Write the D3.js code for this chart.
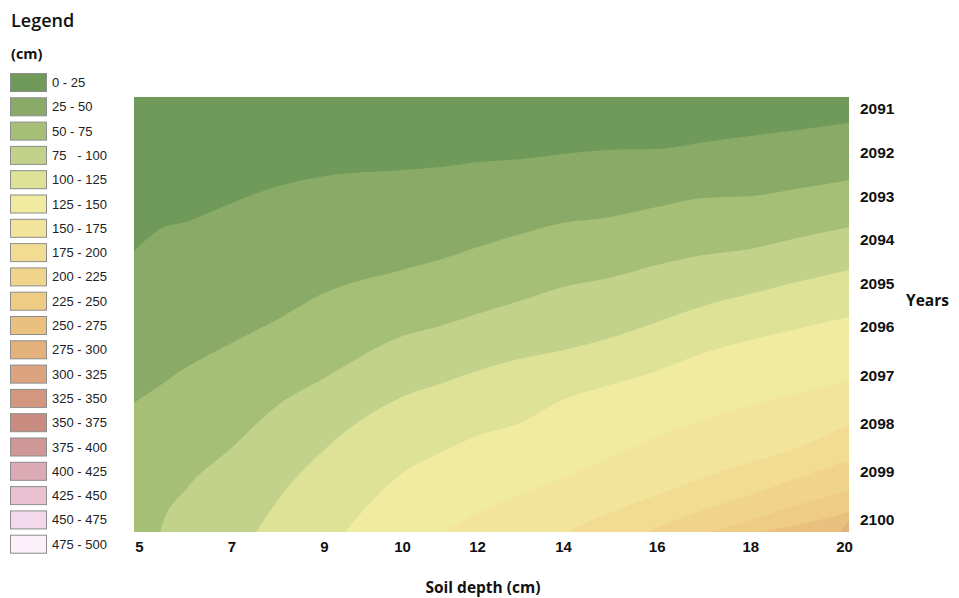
<!doctype html>
<html lang="en">
<head>
<meta charset="UTF-8">
<title>Soil depth by year</title>
<script src="https://d3js.org/d3.v7.min.js"></script>
<style>
  body { margin: 0; background: #fff; }
  svg { display: block; }
</style>
</head>
<body>
<div id="chart"></div>
<script>
// legend classes (cm)
var classLabels = ["0 - 25", "25 - 50", "50 - 75", "75   - 100", "100 - 125", "125 - 150", "150 - 175",
  "175 - 200", "200 - 225", "225 - 250", "250 - 275", "275 - 300", "300 - 325", "325 - 350",
  "350 - 375", "375 - 400", "400 - 425", "425 - 450", "450 - 475", "475 - 500"];
var classColors = ["#6f9a59", "#8aab68", "#a6bf77", "#c3d28a", "#dde296", "#f1eb9f", "#f2e49a",
  "#f2dc92", "#f1d48b", "#efcc84", "#eac07e", "#e3b17c", "#dba37e", "#d3977f",
  "#c98b80", "#cf9897", "#dcaab4", "#e9c1d0", "#f3d9eb", "#fcf0fb"];

// axis ticks
var depthTicks = [5, 7, 9, 10, 12, 14, 16, 18, 20];
var yearTicks = [2091, 2092, 2093, 2094, 2095, 2096, 2097, 2098, 2099, 2100];

// class boundaries: [soil depth, year]
var edge25 = [[4.88, 2094.28], [5.5, 2093.73], [6, 2093.59], [7, 2093.16], [8, 2092.77], [9, 2092.54],
  [10, 2092.40], [11, 2092.33], [12, 2092.22], [13, 2092.15], [14, 2092.03], [15, 2091.94],
  [16, 2091.92], [17, 2091.76], [18, 2091.62], [19, 2091.48], [20.12, 2091.32]];
var edge50 = [[4.88, 2097.58], [5.5, 2097.18], [6, 2096.85], [7, 2096.33], [8, 2095.82], [9, 2095.22],
  [10, 2094.69], [11, 2094.46], [12, 2094.17], [13, 2093.87], [14, 2093.61], [15, 2093.48],
  [16, 2093.25], [17, 2093.04], [18, 2093.00], [19, 2092.83], [20.12, 2092.63]];
var edge75 = [[5.45, 2100.3], [5.5, 2100.10], [6, 2099.38], [7, 2098.51], [8, 2097.62], [9, 2097.06],
  [10, 2096.19], [11, 2095.98], [12, 2095.70], [13, 2095.40], [14, 2095.08], [15, 2094.87],
  [16, 2094.58], [17, 2094.35], [18, 2094.21], [19, 2093.96], [20.12, 2093.71]];
var edge100 = [[7.5, 2100.3], [8, 2099.59], [9, 2098.55], [10, 2097.45], [11, 2097.18], [12, 2096.91],
  [13, 2096.66], [14, 2096.48], [15, 2096.23], [16, 2095.89], [17, 2095.52], [18, 2095.24],
  [19, 2094.97], [20.12, 2094.69]];
var edge125 = [[9.24, 2100.3], [10, 2099.03], [11, 2098.61], [12, 2098.26], [13, 2097.99], [14, 2097.51],
  [15, 2097.20], [16, 2096.91], [17, 2096.54], [18, 2096.27], [19, 2096.04], [20.12, 2095.77]];
var edge150 = [[11.0, 2100.3], [12.07, 2099.83], [13, 2099.48], [14, 2099.13], [15, 2098.71],
  [16, 2098.28], [17, 2097.93], [18, 2097.62], [19, 2097.37], [20.12, 2097.10]];
var edge175 = [[13.93, 2100.3], [15, 2099.85], [16, 2099.48], [17, 2099.13], [18, 2098.81],
  [19, 2098.50], [20.12, 2098.02]];
var edge200 = [[15.64, 2100.3], [17, 2099.79], [18, 2099.48], [19, 2099.13], [20.12, 2098.76]];
var edge225 = [[16.97, 2100.3], [18, 2100.0], [19, 2099.69], [20.12, 2099.38]];
var edge250 = [[17.93, 2100.3], [19, 2100.10], [20.12, 2099.83]];
var edge275 = [[19.87, 2100.3], [20.12, 2100.0]];

var edges = [edge25, edge50, edge75, edge100, edge125, edge150, edge175, edge200, edge225, edge250, edge275];

var width = 959, height = 598;
var plot = {left: 134, right: 849, top: 97, bottom: 532};

var svg = d3.select("#chart").append("svg")
  .attr("width", width)
  .attr("height", height)
  .style("font-family", "'Open Sans', sans-serif");

svg.append("rect").attr("width", width).attr("height", height).attr("fill", "#fff");

// the tick labels on the original are not evenly spaced
var xScale = d3.scaleLinear()
  .domain([5, 9, 10, 12, 14, 20])
  .range([139, 324, 402, 477, 563, 844]);
var yScale = d3.scaleLinear()
  .domain([2091, 2096, 2100])
  .range([109, 327, 520]);

svg.append("clipPath").attr("id", "plotClip")
  .append("rect")
  .attr("x", plot.left).attr("y", plot.top)
  .attr("width", plot.right - plot.left).attr("height", plot.bottom - plot.top);

var map = svg.append("g").attr("clip-path", "url(#plotClip)");

map.append("rect")
  .attr("x", plot.left).attr("y", plot.top)
  .attr("width", plot.right - plot.left).attr("height", plot.bottom - plot.top)
  .attr("fill", classColors[0]);

var band = d3.area()
  .x(function(d) { return xScale(d[0]); })
  .y0(plot.bottom + 5)
  .y1(function(d) { return yScale(d[1]); })
  .curve(d3.curveMonotoneX);

map.selectAll("path.band")
  .data(edges)
  .enter()
  .append("path")
  .attr("class", "band")
  .attr("d", band)
  .attr("fill", function(d, i) { return classColors[i + 1]; });

// axes
var xAxis = d3.axisBottom(xScale).tickValues(depthTicks).tickSize(0).tickPadding(9);
var gx = svg.append("g")
  .attr("transform", "translate(0," + plot.bottom + ")")
  .call(xAxis);
gx.select(".domain").remove();
gx.selectAll("text")
  .attr("fill", "#111")
  .style("font-size", "15px")
  .style("font-weight", "700");

var yAxis = d3.axisRight(yScale).tickValues(yearTicks).tickFormat(d3.format("d")).tickSize(0).tickPadding(11);
var gy = svg.append("g")
  .attr("transform", "translate(" + plot.right + ",0)")
  .call(yAxis);
gy.select(".domain").remove();
gy.selectAll("text")
  .attr("fill", "#111")
  .style("font-size", "15.5px")
  .style("font-weight", "700");

svg.append("text")
  .attr("x", 483).attr("y", 593)
  .attr("text-anchor", "middle")
  .attr("fill", "#111")
  .style("font-size", "15.5px")
  .style("font-weight", "700")
  .text("Soil depth (cm)");

svg.append("text")
  .attr("x", 906).attr("y", 306)
  .attr("fill", "#111")
  .style("font-size", "15.5px")
  .style("font-weight", "700")
  .text("Years");

// legend
var legend = svg.append("g");
legend.append("text")
  .attr("x", 11).attr("y", 27)
  .attr("fill", "#111")
  .style("font-size", "18px")
  .style("font-weight", "600")
  .text("Legend");
legend.append("text")
  .attr("x", 11).attr("y", 59)
  .attr("fill", "#111")
  .style("font-size", "14.5px")
  .style("font-weight", "700")
  .text("(cm)");

var item = legend.selectAll("g.item")
  .data(classLabels)
  .enter()
  .append("g")
  .attr("class", "item")
  .attr("transform", function(d, i) { return "translate(10," + (73 + i * 24.3) + ")"; });

item.append("rect")
  .attr("x", 0.5).attr("y", 0.5)
  .attr("width", 36).attr("height", 18)
  .attr("fill", function(d, i) { return classColors[i]; })
  .attr("stroke", "#8c8c8c")
  .attr("stroke-width", 1);

item.append("text")
  .attr("x", 42).attr("y", 14)
  .attr("fill", "#222")
  .style("font-family", "'Liberation Sans', Arial, sans-serif")
  .style("font-size", "13px")
  .style("white-space", "pre")
  .text(function(d) { return d; });
</script>
</body>
</html>
